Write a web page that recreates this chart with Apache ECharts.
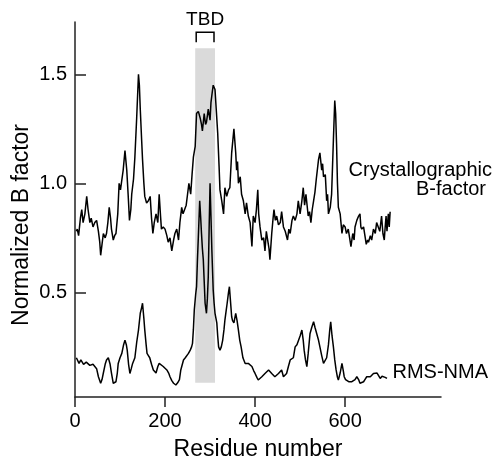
<!DOCTYPE html>
<html>
<head>
<meta charset="utf-8">
<script src="https://cdn.jsdelivr.net/npm/echarts@6/dist/echarts.min.js"></script>
<style>
html,body{margin:0;padding:0;background:#fff;}
#c{width:495px;height:460px;}
</style>
</head>
<body>
<div id="c"></div>
<script>
// Crystallographic B-factor (residue, normalized value)
var crystRes = [3,5,8,12,15,18,22,26,29,33,36,40,44,48,52,55,57,60,63,67,70,73,76,79,81,85,88,91,95,98,101,103,107,111,115,118,121,124,126,130,133,137,141,143,145,148,150,153,155,159,163,167,170,173,176,180,184,187,190,192,196,200,204,207,211,215,219,222,226,230,233,237,240,243,247,250,253,257,260,263,267,270,274,278,281,283,287,290,292,296,300,302,305,307,311,314,317,320,322,326,330,333,337,341,344,348,353,357,359,361,363,367,370,374,378,381,385,389,393,396,400,403,406,408,411,415,419,422,425,428,431,433,437,440,442,445,448,452,456,459,463,467,472,475,478,482,485,489,493,496,500,504,507,510,513,518,521,524,527,530,533,536,541,544,548,550,552,556,559,561,563,567,570,574,577,579,581,583,585,589,593,596,600,603,607,610,613,617,620,622,626,630,633,635,637,641,644,647,650,652,656,659,663,667,670,674,677,681,684,687,689,691,693,696,698,700];
var crystVal = [0.78,0.79,0.76,0.84,0.88,0.82,0.86,0.94,0.88,0.82,0.84,0.80,0.82,0.83,0.78,0.73,0.67,0.72,0.77,0.75,0.77,0.82,0.89,0.84,0.79,0.74,0.76,0.77,0.86,1.00,0.97,1.00,1.06,1.15,1.06,0.95,0.83,0.88,0.95,1.02,1.12,1.30,1.50,1.45,1.34,1.20,1.11,1.00,0.94,0.91,0.92,0.94,0.84,0.77,0.82,0.86,0.82,0.95,0.85,0.79,0.80,0.79,0.76,0.73,0.75,0.69,0.74,0.77,0.79,0.74,0.82,0.89,0.86,0.86,0.90,0.95,1.00,0.95,1.04,1.12,1.17,1.32,1.33,1.30,1.27,1.24,1.32,1.27,1.28,1.34,1.29,1.37,1.42,1.45,1.43,1.33,1.23,1.08,0.97,0.92,0.86,0.98,0.94,0.97,0.98,1.14,1.25,1.14,1.06,1.10,1.00,1.03,0.95,0.92,0.86,0.91,0.85,0.82,0.71,0.85,0.82,0.88,0.97,0.86,0.80,0.74,0.75,0.69,0.78,0.74,0.70,0.65,0.77,0.84,0.88,0.83,0.85,0.81,0.82,0.87,0.80,0.78,0.74,0.79,0.77,0.83,0.85,0.83,0.86,0.92,0.86,0.92,0.98,0.90,0.95,0.85,0.87,0.82,0.88,0.92,0.96,1.02,1.11,1.14,1.06,1.09,1.03,1.04,0.92,0.95,0.86,0.89,0.95,1.20,1.38,1.32,1.18,1.00,0.89,0.86,0.77,0.81,0.80,0.77,0.79,0.75,0.71,0.77,0.74,0.80,0.83,0.85,0.86,0.80,0.79,0.80,0.76,0.72,0.74,0.73,0.76,0.74,0.79,0.77,0.82,0.82,0.78,0.85,0.77,0.74,0.80,0.85,0.78,0.86,0.80,0.87];

// RMS-NMA (residue, normalized value)
var nmaRes = [3,5,9,13,16,19,21,25,29,33,36,40,44,48,52,57,60,63,67,70,74,76,78,81,85,88,91,94,96,100,104,108,111,114,116,119,122,125,128,133,137,141,145,148,150,153,155,158,160,163,166,170,174,177,180,184,187,191,196,200,204,208,211,215,219,222,224,228,232,235,241,245,248,252,256,259,261,263,265,268,270,272,274,277,279,281,283,285,287,289,292,294,296,298,300,302,304,307,309,311,313,315,317,319,322,325,328,331,333,336,338,341,343,345,348,350,353,357,360,363,366,369,373,378,381,385,389,393,397,400,404,407,411,415,419,422,426,430,433,437,441,444,448,452,456,459,463,467,470,474,478,482,485,489,493,496,500,504,507,509,512,515,518,522,526,530,533,537,541,544,548,552,556,559,563,566,568,571,574,577,580,583,585,589,593,596,598,601,604,608,611,615,619,622,626,630,633,637,641,644,648,652,656,659,663,667,671,674,678,682,685,689,693];
var nmaVal = [0.20,0.197,0.174,0.19,0.18,0.17,0.167,0.18,0.174,0.165,0.16,0.17,0.174,0.15,0.113,0.083,0.10,0.13,0.17,0.19,0.20,0.197,0.17,0.13,0.083,0.085,0.09,0.13,0.174,0.20,0.22,0.26,0.281,0.26,0.235,0.17,0.128,0.15,0.174,0.20,0.27,0.327,0.404,0.43,0.45,0.38,0.327,0.26,0.22,0.21,0.20,0.17,0.144,0.135,0.13,0.16,0.174,0.17,0.16,0.155,0.144,0.13,0.113,0.095,0.083,0.077,0.075,0.085,0.10,0.144,0.19,0.20,0.20,0.22,0.235,0.25,0.266,0.33,0.42,0.49,0.526,0.65,0.755,0.92,0.85,0.77,0.70,0.65,0.55,0.45,0.404,0.47,0.57,0.80,1.00,0.85,0.694,0.51,0.45,0.404,0.40,0.36,0.30,0.25,0.235,0.25,0.28,0.33,0.373,0.42,0.45,0.50,0.526,0.47,0.388,0.37,0.36,0.404,0.37,0.327,0.28,0.25,0.20,0.174,0.18,0.174,0.165,0.16,0.14,0.128,0.11,0.098,0.105,0.113,0.12,0.128,0.12,0.144,0.135,0.128,0.12,0.113,0.12,0.128,0.135,0.144,0.113,0.12,0.128,0.16,0.19,0.19,0.20,0.25,0.26,0.265,0.30,0.327,0.28,0.235,0.19,0.159,0.22,0.31,0.34,0.365,0.34,0.31,0.28,0.25,0.21,0.174,0.18,0.20,0.26,0.33,0.365,0.30,0.25,0.19,0.144,0.11,0.098,0.13,0.174,0.14,0.113,0.10,0.098,0.09,0.083,0.09,0.098,0.10,0.113,0.10,0.083,0.088,0.09,0.10,0.113,0.11,0.113,0.12,0.128,0.125,0.13,0.135,0.105,0.115,0.113,0.11,0.105];

// Tick values and annotation
var xTicks = [0, 200, 400, 600];
var yTicks = [0.5, 1.0, 1.5];
var tbdRange = [267, 311];
var tbdSpan = [0.085, 1.62];

function pairs(xs, ys){ var out=[]; for(var i=0;i<xs.length;i++){ out.push([xs[i], ys[i]]); } return out; }

var FONT = '"Liberation Sans", Arial, Helvetica, sans-serif';
var chart = echarts.init(document.getElementById('c'), null, {renderer:'canvas'});
var option = {
  animation:false,
  backgroundColor:'#fff',
  grid:{left:75, right:54, top:22, bottom:63, outerBoundsMode:'none'},
  xAxis:{
    type:'value', min:0, max:813,
    name:'Residue number', nameLocation:'middle', nameGap:41,
    nameTextStyle:{fontFamily:FONT, fontSize:23, color:'#000'},
    axisLine:{show:true, lineStyle:{color:'#222', width:1.5}},
    axisTick:{show:true, inside:false, length:10, customValues:xTicks, lineStyle:{color:'#222', width:1.5}},
    axisLabel:{customValues:xTicks, margin:14, fontFamily:FONT, fontSize:20, color:'#000'},
    splitLine:{show:false}
  },
  yAxis:{
    type:'value', min:0.02, max:1.74,
    axisLine:{show:true, lineStyle:{color:'#222', width:1.5}},
    axisTick:{show:true, inside:true, length:11, customValues:yTicks, lineStyle:{color:'#222', width:1.5}},
    axisLabel:{customValues:yTicks, margin:8, fontFamily:FONT, fontSize:20, color:'#000',
      formatter:function(v){ return v.toFixed(1); }},
    splitLine:{show:false}
  },
  series:[
    {
      type:'line', name:'Crystallographic B-factor', data:pairs(crystRes, crystVal),
      showSymbol:false, symbol:'none', lineStyle:{color:'#000', width:1.5}, z:3,
      markArea:{silent:true, itemStyle:{color:'#dadada'}, z:1,
        data:[[{coord:[tbdRange[0], tbdSpan[0]]},{coord:[tbdRange[1], tbdSpan[1]]}]]}
    },
    {
      type:'line', name:'RMS-NMA', data:pairs(nmaRes, nmaVal),
      showSymbol:false, symbol:'none', lineStyle:{color:'#000', width:1.5}, z:3
    }
  ]
};
chart.setOption(option);

var pL = chart.convertToPixel({gridIndex:0}, [tbdRange[0], 1.693]);
var pR = chart.convertToPixel({gridIndex:0}, [tbdRange[1], 1.693]);
var pB = chart.convertToPixel({gridIndex:0}, [tbdRange[0], 1.647]);
chart.setOption({
  graphic:[
    {type:'polyline', shape:{points:[[pL[0]+1,pB[1]],[pL[0]+1,pL[1]],[pR[0]-1,pR[1]],[pR[0]-1,pB[1]]]},
      style:{stroke:'#000', lineWidth:1.5, fill:null}},
    {type:'text', x:(pL[0]+pR[0])/2, y:20, style:{text:'TBD', font:'19px '+FONT, fill:'#000', align:'center', verticalAlign:'middle'}},
    {type:'text', x:492, y:170, style:{text:'Crystallographic', font:'20px '+FONT, fill:'#000', align:'right', verticalAlign:'middle'}},
    {type:'text', x:486, y:189, style:{text:'B-factor', font:'20px '+FONT, fill:'#000', align:'right', verticalAlign:'middle'}},
    {type:'text', x:488, y:372, style:{text:'RMS-NMA', font:'20px '+FONT, fill:'#000', align:'right', verticalAlign:'middle'}},
    {type:'text', x:22, y:225, rotation:Math.PI/2, style:{text:'Normalized B factor', font:'23px '+FONT, fill:'#000', align:'center', verticalAlign:'middle'}}
  ]
});
</script>
</body>
</html>
